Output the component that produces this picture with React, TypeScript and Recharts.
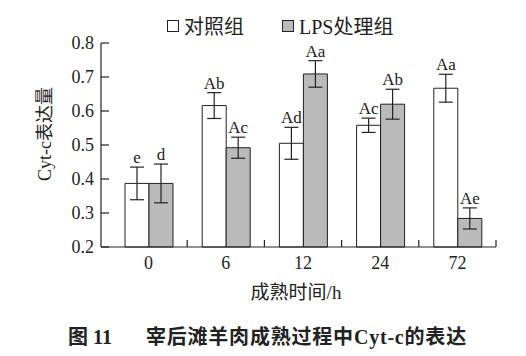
import React from "react";
import { BarChart, Bar, XAxis, YAxis, ErrorBar, LabelList, Legend } from "recharts";

const categories = ["0", "6", "12", "24", "72"];
const controlValues = [0.387, 0.616, 0.505, 0.558, 0.667];
const controlErrors = [0.048, 0.038, 0.047, 0.021, 0.041];
const controlLetters = ["e", "Ab", "Ad", "Ac", "Aa"];
const lpsValues = [0.387, 0.492, 0.709, 0.62, 0.284];
const lpsErrors = [0.057, 0.031, 0.039, 0.044, 0.031];
const lpsLetters = ["d", "Ac", "Aa", "Ab", "Ae"];
const yTicks = [0.2, 0.3, 0.4, 0.5, 0.6, 0.7, 0.8];
const seriesOrder = ["control", "lps"];

const Y_MIN = 0.2;
const FONT = "'Liberation Serif', 'Noto Sans CJK SC', serif";
const INK = "#222";
const GREY = "#bababa";

const data = categories.map((c, i) => ({
  time: c,
  control: controlValues[i],
  controlErr: controlErrors[i],
  controlSig: controlLetters[i],
  lps: lpsValues[i],
  lpsErr: lpsErrors[i],
  lpsSig: lpsLetters[i],
}));

// letter goes just above the error bar cap
const sigLabel = (valueKey: "control" | "lps", errKey: "controlErr" | "lpsErr") => (props: any) => {
  const { x, y, width, height, value, index } = props;
  const row = data[index];
  const pxPerUnit = height / (row[valueKey] - Y_MIN);
  const top = y - row[errKey] * pxPerUnit;
  return (
    <text x={x + width / 2} y={top - 4} textAnchor="middle" fontSize={17} fontFamily={FONT} fill={INK}>
      {value}
    </text>
  );
};

const XTick = (props: any) => {
  const { x, y, payload } = props;
  const edge = x + (payload.offset || 0);
  return (
    <g>
      <line x1={edge} y1={y} x2={edge} y2={y - 7} stroke={INK} strokeWidth={1.2} />
      <text x={x} y={y + 16} dy="0.35em" textAnchor="middle" fontSize={18} fontFamily={FONT} fill={INK}>
        {payload.value}
      </text>
    </g>
  );
};

const LegendContent = (props: any) => {
  const items = [...(props.payload || [])].sort(
    (a: any, b: any) => seriesOrder.indexOf(a.dataKey) - seriesOrder.indexOf(b.dataKey)
  );
  return (
    <div style={{ display: "flex", alignItems: "center", fontFamily: FONT, fontSize: 20, color: INK }}>
      {items.map((p: any, i: number) => (
        <div key={i} style={{ display: "flex", alignItems: "center", marginRight: i === 0 ? 38 : 0 }}>
          <span
            style={{
              display: "inline-block",
              width: 10,
              height: 10,
              border: `1px solid ${INK}`,
              background: p.payload.fill,
              marginRight: 5,
            }}
          />
          <span>{p.value}</span>
        </div>
      ))}
    </div>
  );
};

export default function App() {
  return (
    <div style={{ position: "relative", width: 526, height: 356, background: "#fff" }}>
      <style>{`body{margin:0}`}</style>
      <BarChart
        width={526}
        height={356}
        data={data}
        margin={{ top: 43, right: 30, bottom: 49, left: 0 }}
        barGap={0}
        barSize={24}
      >
        <XAxis
          dataKey="time"
          height={60}
          padding={{ left: 9, right: 0 }}
          axisLine={{ stroke: INK, strokeWidth: 1.2 }}
          tickLine={false}
          tickSize={0}
          tickMargin={0}
          tick={<XTick />}
          interval={0}
          label={{
            content: () => (
              <text x={296} y={292} dy="0.35em" textAnchor="middle" fontSize={19} fontFamily={FONT} fill={INK}>
                成熟时间/h
              </text>
            ),
          }}
        />
        <YAxis
          width={101}
          domain={[0.2, 0.8]}
          ticks={yTicks}
          interval={0}
          axisLine={{ stroke: INK, strokeWidth: 1.2 }}
          tickLine={{ stroke: INK, strokeWidth: 1.2 }}
          tickSize={-8}
          tickMargin={15}
          tick={{ fontSize: 18, fontFamily: FONT, fill: INK }}
          label={{
            content: () => (
              <text
                x={45}
                y={134}
                dy="0.35em"
                textAnchor="middle"
                transform="rotate(-90 45 134)"
                fontSize={18}
                fontFamily={FONT}
                fill={INK}
              >
                Cyt-c表达量
              </text>
            ),
          }}
        />
        <Legend
          layout="horizontal"
          verticalAlign="middle"
          align="center"
          wrapperStyle={{ top: 11, left: 167, width: "auto" }}
          content={<LegendContent />}
        />
        <Bar dataKey="control" name="对照组" fill="#fff" stroke={INK} strokeWidth={1} isAnimationActive={false}>
          <ErrorBar dataKey="controlErr" width={7} stroke={INK} strokeWidth={1.2} />
          <LabelList dataKey="controlSig" content={sigLabel("control", "controlErr")} />
        </Bar>
        <Bar dataKey="lps" name="LPS处理组" fill={GREY} stroke={INK} strokeWidth={1} isAnimationActive={false}>
          <ErrorBar dataKey="lpsErr" width={7} stroke={INK} strokeWidth={1.2} />
          <LabelList dataKey="lpsSig" content={sigLabel("lps", "lpsErr")} />
        </Bar>
      </BarChart>
      <div
        style={{
          position: "absolute",
          top: 325,
          left: 68,
          fontFamily: FONT,
          fontWeight: "bold",
          fontSize: 20,
          lineHeight: "24px",
          color: INK,
          whiteSpace: "nowrap",
        }}
      >
        <span>图 11</span>
        <span style={{ marginLeft: 34, letterSpacing: 0.8 }}>宰后滩羊肉成熟过程中Cyt-c的表达</span>
      </div>
    </div>
  );
}
